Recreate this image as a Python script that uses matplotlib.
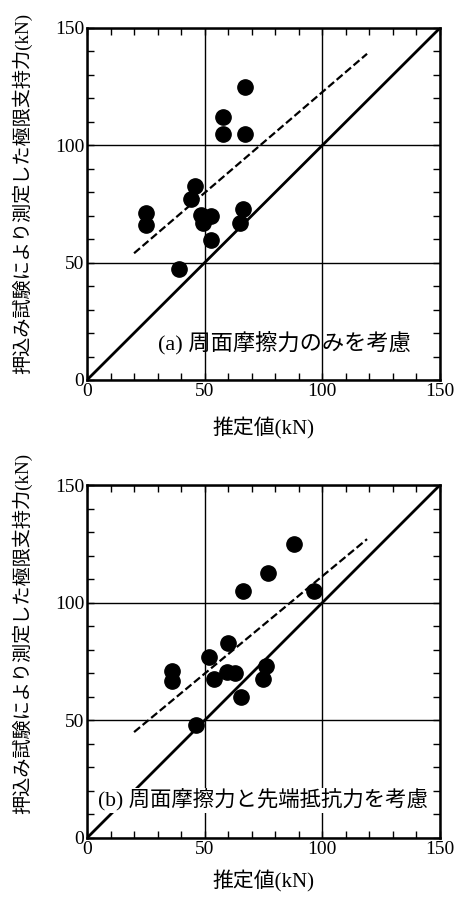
import numpy as np
import matplotlib.pyplot as plt
from matplotlib.ticker import MultipleLocator

plt.rcParams['font.family'] = ['Liberation Serif', 'Noto Sans CJK JP', 'DejaVu Sans']

# (a) 周面摩擦力のみ
xa = [67, 58, 58, 67, 46, 44, 25, 25, 48.5, 49.5, 52.5, 52.5, 66.5, 65, 39]
ya = [125, 112, 105, 105, 82.5, 77, 71, 66, 70.5, 67, 70, 59.5, 73, 67, 47.5]
# (b) 周面摩擦力 + 先端抵抗力
xb = [88, 77, 66.5, 96.5, 60, 52, 36, 36, 59.5, 63, 54, 76, 75, 65.5, 46.5]
yb = [125, 112.5, 105, 105, 83, 77, 71, 66.5, 70.5, 70, 67.5, 73, 67.5, 60, 48]
# 破線 (始点, 終点)
dash_a_x = [20, 119]
dash_a_y = [54, 139]
dash_b_x = [20, 119]
dash_b_y = [45, 127]

titles = ['(a) 周面摩擦力のみを考慮', '(b) 周面摩擦力と先端抵抗力を考慮']
ylab = '押込み試験により測定した極限支持力(kN)'
xlab = '推定値(kN)'

fig = plt.figure(figsize=(4.66, 8.97), dpi=100)
ax1 = fig.add_axes([0.1867, 0.5764, 0.7575, 0.3924])
ax2 = fig.add_axes([0.1867, 0.0658, 0.7575, 0.3935])

panels = [(ax1, xa, ya, dash_a_x, dash_a_y, titles[0], (30, 16), False, 13, 16, 0.53),
          (ax2, xb, yb, dash_b_x, dash_b_y, titles[1], (4.5, 16), True, 9, 15.4, 0.58)]

for ax, x, y, dx, dy, t, tpos, box, xpad, tsize, ly in panels:
    ax.set_xlim(0, 150)
    ax.set_ylim(0, 150)
    ax.xaxis.set_major_locator(MultipleLocator(50))
    ax.yaxis.set_major_locator(MultipleLocator(50))
    ax.xaxis.set_minor_locator(MultipleLocator(10))
    ax.yaxis.set_minor_locator(MultipleLocator(10))
    ax.tick_params(which='both', direction='in', top=True, right=True,
                   length=5, width=1, labelsize=14, pad=2)
    ax.grid(True, which='major', color='black', linewidth=1)
    for s in ax.spines.values():
        s.set_linewidth(1.8)
    ax.plot([0, 150], [0, 150], color='black', linewidth=2)
    ax.plot(dx, dy, color='black', linewidth=1.6, linestyle=(0, (3.5, 1.5)))
    ax.plot(x, y, 'o', color='black', markersize=11, zorder=5)
    kw = {}
    if box:
        kw['bbox'] = dict(facecolor='white', edgecolor='none', pad=1)
    ax.text(tpos[0], tpos[1], t, fontsize=tsize, va='center', ha='left', zorder=6, **kw)
    ax.set_ylabel(ylab, fontsize=13.8, va='center')
    ax.yaxis.set_label_coords(-0.184, ly)
    ax.set_xlabel(xlab, fontsize=15, labelpad=xpad)

fig.savefig('out.png', dpi=100)
